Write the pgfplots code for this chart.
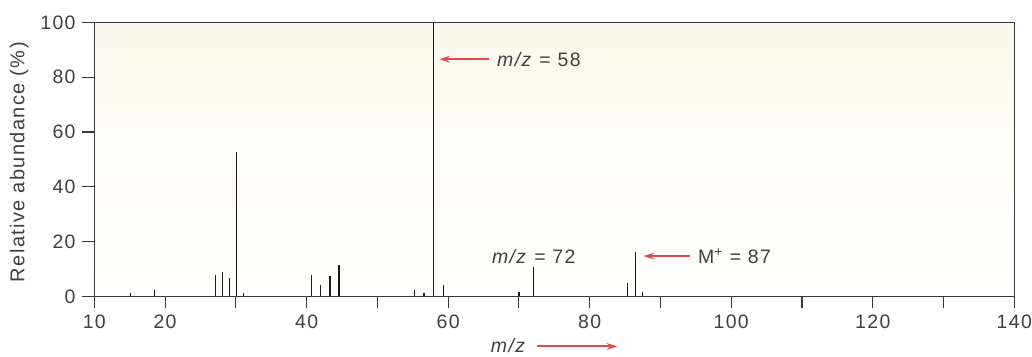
\documentclass[border=0pt]{standalone}
\usepackage{fontspec}
\setmainfont{Liberation Sans}[LetterSpace=7]
\usepackage{pgfplots}
\pgfplotsset{compat=1.18}
\usetikzlibrary{arrows.meta}
\definecolor{txt}{HTML}{404040}
\definecolor{ax}{HTML}{383838}
\definecolor{arr}{HTML}{E5484D}
\definecolor{bgtop}{HTML}{FBF9EC}

\begin{document}
\fontsize{14.6}{17.5}\selectfont
\begin{tikzpicture}
\useasboundingbox (0pt,0pt) rectangle (774pt,267.75pt);
\begin{axis}[
  at={(70.725pt,45.525pt)}, anchor=south west,
  scale only axis, width=690pt, height=205.35pt,
  xmin=10, xmax=140, ymin=0, ymax=100,
  axis background/.style={top color=bgtop, bottom color=white, middle color=bgtop!40!white},
  axis line style={ax, line width=0.8pt},
  tick style={ax, line width=0.8pt},
  tick align=outside, major tick length=9pt,
  xtick pos=bottom, ytick pos=left,
  xtick={10,20,...,140},
  xticklabels={10,20,,40,,60,,80,,100,,120,,140},
  ytick={0,20,...,100},
  yticklabels={0,20,40,60,80,100},
  ticklabel style={text=txt},
  clip=false,
]
\addplot[ycomb, color=black!90, line width=1pt, mark=none] coordinates {
(15.1,1.1) (18.5,2.3) (27.1,7.6) (28.1,9.0) (29.15,6.6) (30.1,52.7) (31.1,1.3)
(40.7,7.8) (42.0,4.1) (43.3,7.5) (44.6,11.5)
(55.2,2.2) (56.6,1.2) (57.9,100) (59.3,4.0)
(70.0,1.5) (72.1,10.6)
(85.3,4.9) (86.5,16.2) (87.5,1.5)
};
\node[rotate=90, text=txt, inner sep=0pt] at ([xshift=-56.25pt]axis description cs:0,0.49) {\fontsize{15}{18}\selectfont Relative abundance (\%)};
\draw[arr, line width=1.5pt, -{Stealth[length=8pt,width=5pt]}] (axis cs:65.8,86.6) -- (axis cs:58.75,86.6);
\node[anchor=west, text=txt, inner sep=0pt] at (axis cs:66.9,86.6) {\textit{m/z} = 58};
\node[anchor=center, text=txt, inner sep=0pt] at (axis cs:72.1,14.7) {\textit{m/z} = 72};
\draw[arr, line width=1.5pt, -{Stealth[length=8pt,width=5pt]}] (axis cs:94.2,14.7) -- (axis cs:87.6,14.7);
\node[anchor=west, text=txt, inner sep=0pt] at (axis cs:95.3,14.7) {M\textsuperscript{+} = 87};
\node[anchor=east, text=txt, inner sep=0pt] at (axis cs:71.1,-17.9) {\textit{m/z}};
\draw[arr, line width=1.5pt, -{Stealth[length=8pt,width=5pt]}] (axis cs:72.6,-18.3) -- (axis cs:83.9,-18.3);
\end{axis}
\end{tikzpicture}
\end{document}
